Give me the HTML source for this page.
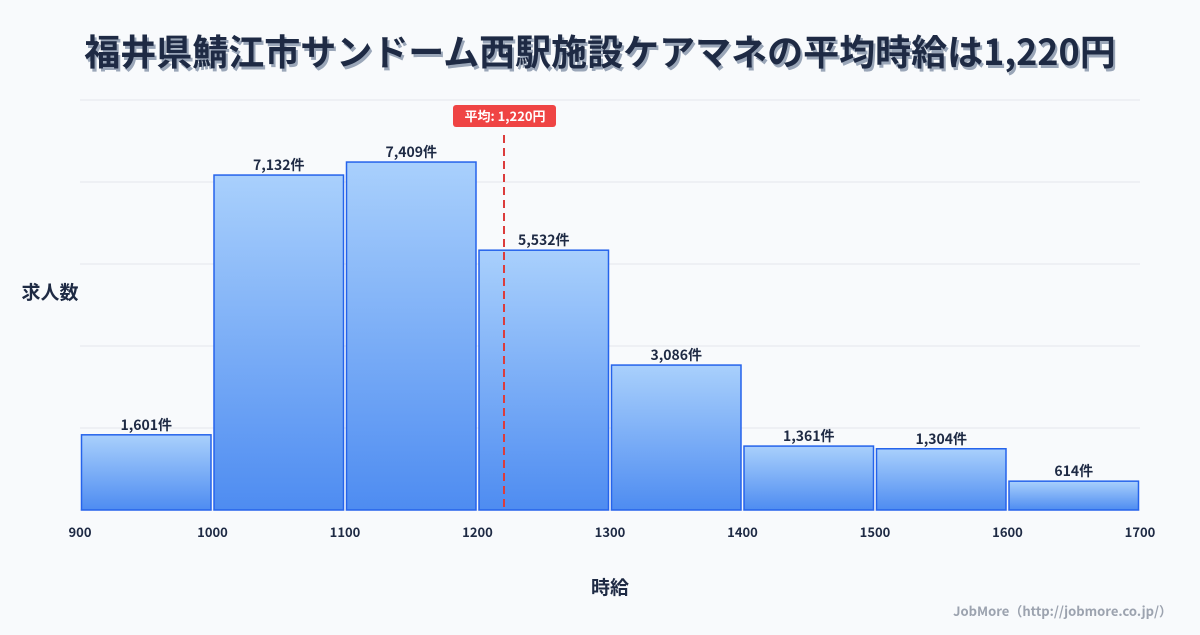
<!DOCTYPE html>
<html><head><meta charset="utf-8"><style>
body{margin:0;width:1200px;height:630px;background:#f8fafc;font-family:"Noto Sans CJK JP",sans-serif;overflow:hidden}
svg text{font-family:"Noto Sans CJK JP","Liberation Sans",sans-serif}
</style></head><body>
<svg id="c" width="1200" height="630">
<defs><linearGradient id="g" x1="0" y1="0" x2="0" y2="1"><stop offset="0" stop-color="#a9d0fc"/><stop offset="1" stop-color="#4e8cf1"/></linearGradient></defs>
<text x="600" y="65" text-anchor="middle" font-size="36" font-weight="bold" fill="#9aa6b8" transform="translate(2,3)">福井県鯖江市サンドーム西駅施設ケアマネの平均時給は1,220円</text>
<text x="600" y="65" text-anchor="middle" font-size="36" font-weight="bold" fill="#1e2a44">福井県鯖江市サンドーム西駅施設ケアマネの平均時給は1,220円</text>
<text x="50" y="299" text-anchor="middle" font-size="19" font-weight="bold" fill="#1e2a44">求人数</text>
<text x="610" y="594" text-anchor="middle" font-size="19" font-weight="bold" fill="#1e2a44">時給</text>
<text x="1172" y="616" text-anchor="end" font-size="13" font-weight="bold" fill="#9ca3af">JobMore（http://jobmore.co.jp/）</text>
<g id="grid"></g><g id="bars"></g><g id="ticks"></g><g id="avg"></g>
</svg>
<script>
const binStarts=[900,1000,1100,1200,1300,1400,1500,1600];
const counts=[1601,7132,7409,5532,3086,1361,1304,614];
const xTicks=[900,1000,1100,1200,1300,1400,1500,1600,1700];
const avgWage=1220;
const binWidth=100;
const yMax=8730;
const NS='http://www.w3.org/2000/svg';
const X=v=>80+(v-900)*1060/800;
const Y=v=>510-v*410/yMax;
function mk(t,a,p){const e=document.createElementNS(NS,t);for(const k in a)e.setAttribute(k,a[k]);p.appendChild(e);return e;}
const grid=document.getElementById('grid');
for(let i=0;i<=5;i++){const y=510-i*82;const l=mk('line',{x1:80,x2:1140,y1:y,y2:y,stroke:'#e5e7eb','stroke-width':1},grid);

}
const bars=document.getElementById('bars');
binStarts.forEach((s,i)=>{const x0=X(s)+1.5,x1=X(s+binWidth)-1.5,y=Y(counts[i]);
const r=mk('rect',{x:x0,y:y,width:x1-x0,height:510-y,fill:'url(#g)',stroke:'#2563eb','stroke-width':1.5},bars);


const t=mk('text',{x:(x0+x1)/2,y:y-5,'text-anchor':'middle','font-size':14,'font-weight':'bold',fill:'#1e2a44'},bars);
t.textContent=counts[i].toLocaleString('en-US')+'件';

});
const tk=document.getElementById('ticks');
xTicks.forEach(v=>{const t=mk('text',{x:X(v),y:537,'text-anchor':'middle','font-size':13,'font-weight':'bold',fill:'#1e2a44'},tk);t.textContent=v;

});
const av=document.getElementById('avg');const ax=X(avgWage);
const l=mk('line',{x1:ax,x2:ax,y1:135,y2:510,stroke:'#dc3c3c','stroke-width':2,'stroke-dasharray':'8,5'},av);


const b=mk('rect',{x:ax-51,y:105,width:103,height:22,rx:3,fill:'#ef4444'},av);


const at=mk('text',{x:ax+1,y:121,'text-anchor':'middle','font-size':13,'font-weight':'bold',fill:'#fff'},av);
at.textContent='平均: '+avgWage.toLocaleString('en-US')+'円';


</script>
</body></html>
